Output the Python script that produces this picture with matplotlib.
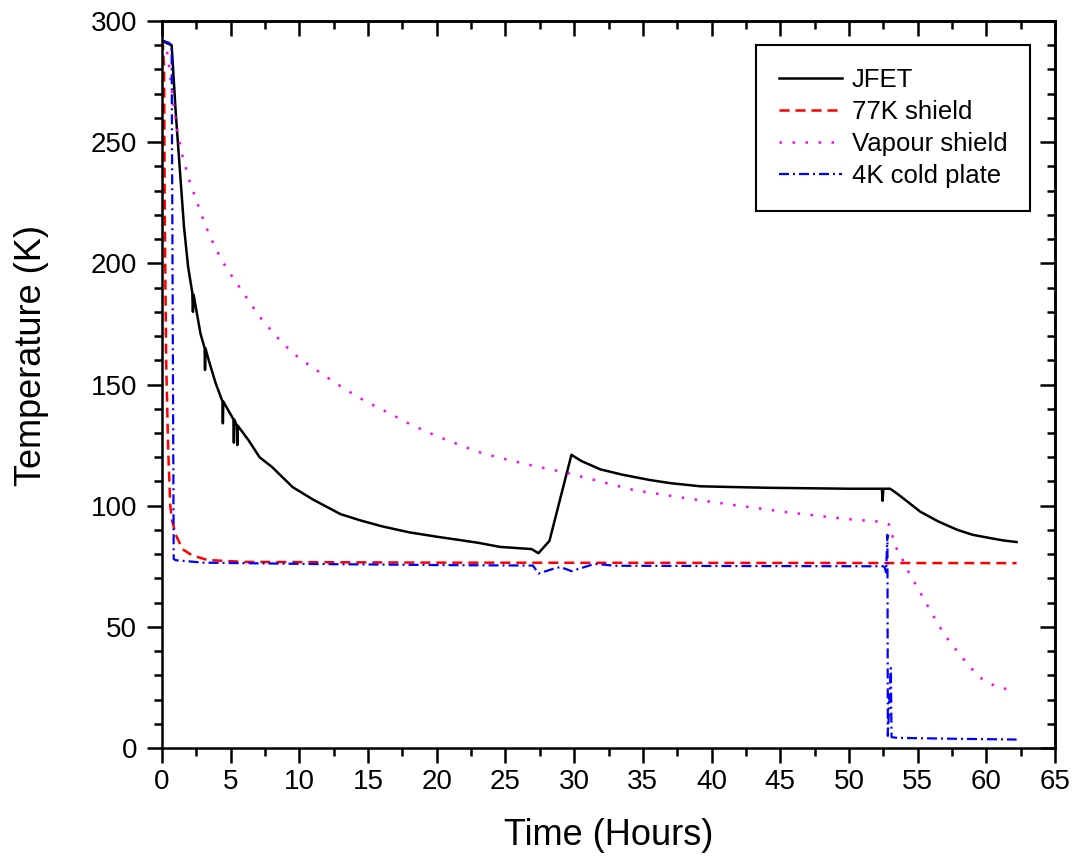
import numpy as np
import matplotlib
matplotlib.use("Agg")
import matplotlib.pyplot as plt

plt.rcParams['font.family'] = ['Liberation Sans', 'DejaVu Sans']

# JFET temperature (K) vs time (hours)
jfet_t = [0, 0.3, 0.7, 1.0, 1.3, 1.6, 1.9, 2.2, 2.25, 2.3, 2.8, 3.1, 3.13, 3.16, 3.4,
          3.9, 4.4, 4.43, 4.46, 5.1, 5.2, 5.23, 5.26, 5.45, 5.48, 5.51, 6.3, 7.1, 8,
          9.5, 11, 12, 13, 14.4, 16, 18, 20, 21.7, 23, 24.6, 26.9, 27.4, 28.2, 29.8,
          30.5, 31.9, 33.5, 35.5, 37, 39.2, 41.5, 44, 50, 52.4, 52.45, 52.5, 53, 53.5,
          54.3, 55.2, 56.5, 57.9, 59, 60.3, 61.2, 62.2]
jfet_T = [292, 291, 290, 262, 238.5, 215, 198.5, 188, 180, 187, 171, 165, 156, 165, 160,
          150.6, 143, 134, 143, 136.6, 135.5, 126, 135.5, 133, 125, 133, 127, 120, 116,
          107.7, 102.5, 99.5, 96.5, 94, 91.5, 89, 87.2, 85.8, 84.7, 83, 82.1, 80.4, 85.5, 121,
          118.5, 115, 112.8, 110.6, 109.3, 108, 107.7, 107.4, 107, 107, 102, 107, 107, 105,
          101.5, 97.5, 93.5, 90, 88, 86.6, 85.7, 85]

# 77K shield
shield77_t = [0, 0.05, 0.15, 0.2, 0.3, 0.45, 0.6, 0.73, 1.0, 1.5, 2.2, 3.3, 6, 20, 40, 62.2]
shield77_T = [292, 292, 280, 220, 160, 123, 100, 94, 88, 82, 79.5, 77.6, 76.8, 76.5, 76.4, 76.3]

# Vapour shield
vapour_t = [0, 0.3, 0.5, 0.8, 1.1, 1.5, 2, 2.5, 3, 3.5, 4.1, 4.7, 5.3, 5.9, 6.5, 7.1,
            8.3, 9.5, 10.7, 12, 13.2, 14.4, 15.6, 16.8, 18, 19.3, 20.5, 21.7, 23, 24.6,
            27, 29.5, 32, 34.3, 38, 41.6, 45.5, 49.8, 52.5, 53.0, 53.3, 53.7, 54.4, 55.2,
            55.9, 56.6, 57.3, 58.1, 58.8, 59.5, 60.0, 60.5, 61, 61.5, 62.2]
vapour_T = [292, 290, 282, 267, 255, 244, 234, 226, 218, 211, 204, 198, 193, 188, 183, 178,
            170, 163, 158, 153, 148.5, 144.4, 140.8, 137.4, 133.8, 130.4, 127.6, 125, 122.2, 119.7,
            116.5, 113.5, 109.8, 106.5, 103.2, 100.3, 97.3, 94.5, 93.3, 92, 84, 80, 72, 64,
            57, 50, 44, 38.4, 33.5, 29.3, 27.3, 26, 25, 24.3, 24]

# 4K cold plate
plate_t = [0, 0.5, 0.7, 0.85, 1.0, 3, 10, 20, 27, 27.4, 28.5, 29, 29.8, 31.5, 33, 52.5,
           52.6, 52.7, 52.8, 52.83, 53.05, 53.1, 53.5, 58, 62.2]
plate_T = [292, 291, 290, 78, 77.5, 76.5, 76, 75.5, 75.3, 72, 74, 74.7, 73, 76, 75.2, 75,
           74.5, 72.5, 88, 5, 33, 4.5, 4.2, 3.8, 3.5]

fig = plt.figure(figsize=(10.78, 8.61), dpi=100)
ax = fig.add_axes([0.1503, 0.1312, 0.8284, 0.8444])

ax.plot(jfet_t, jfet_T, color='black', lw=1.8, label='JFET')
ax.plot(shield77_t, shield77_T, color='red', lw=1.8, dashes=(4, 2.4), label='77K shield')
ax.plot(vapour_t, vapour_T, color='#ff00ff', lw=1.8, dashes=(1, 4.2), label='Vapour shield')
ax.plot(plate_t, plate_T, color='blue', lw=1.6, dashes=(4.5, 1.8, 0.9, 1.8), label='4K cold plate')

ax.set_xlim(0, 65)
ax.set_ylim(0, 300)
ax.set_xticks(np.arange(0, 66, 5))
ax.set_xticks(np.arange(0, 66, 2.5), minor=True)
ax.set_yticks(np.arange(0, 301, 50))
ax.set_yticks(np.arange(0, 301, 10), minor=True)

for s in ax.spines.values():
    s.set_linewidth(1.8)

ax.tick_params(which='both', width=1.8, labelsize=20)
ax.tick_params(which='major', length=10.8)
ax.tick_params(which='minor', length=5.8)
ax.tick_params(axis='x', which='both', direction='out', bottom=True, top=False, pad=4)
ax.tick_params(axis='y', which='both', direction='out', left=True, right=False, pad=7)
# inward ticks on the top and right edges
sx = ax.secondary_xaxis('top')
sx.set_xticks(np.arange(0, 66, 5))
sx.set_xticks(np.arange(0, 66, 2.5), minor=True)
sx.tick_params(which='both', direction='in', width=1.8, labeltop=False)
sx.tick_params(which='major', length=10.8)
sx.tick_params(which='minor', length=5.8)
sy = ax.secondary_yaxis('right')
sy.set_yticks(np.arange(0, 301, 50))
sy.set_yticks(np.arange(0, 301, 10), minor=True)
sy.tick_params(which='both', direction='in', width=1.8, labelright=False)
sy.tick_params(which='major', length=10.8)
sy.tick_params(which='minor', length=5.8)
for s in list(sx.spines.values()) + list(sy.spines.values()):
    s.set_linewidth(1.8)

ax.set_xlabel('Time (Hours)', fontsize=26)
ax.set_ylabel('Temperature (K)', fontsize=26)
ax.xaxis.set_label_coords(0.5, -0.096)
ax.yaxis.set_label_coords(-0.1265, 0.54)

leg = ax.legend(loc='upper right', bbox_to_anchor=(0.972, 0.967), fontsize=18.5,
                frameon=True, fancybox=False, edgecolor='black', framealpha=1,
                handlelength=2.45, handletextpad=0.39, labelspacing=0.32,
                borderpad=0.88, borderaxespad=0)
leg.get_frame().set_linewidth(1.5)

fig.savefig('out.png', dpi=100)
